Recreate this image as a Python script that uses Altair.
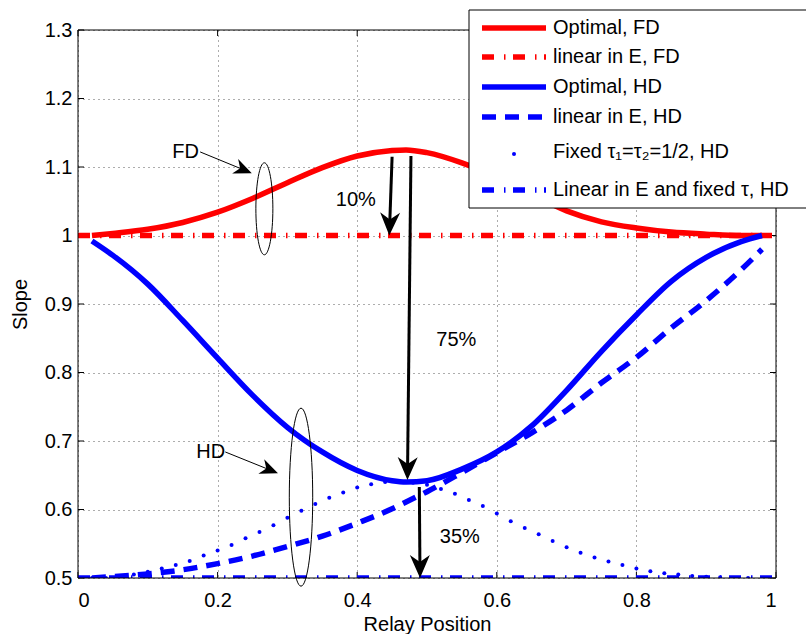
import math
import altair as alt
import pandas as pd

FONT = "Liberation Sans"
RED = "#ff0000"
BLUE = "#0000ff"
W, H = 698, 548
X_DOMAIN = [0.0, 1.0]
Y_DOMAIN = [0.5, 1.3]

# ---------------- data ----------------
x_opt = [0.02, 0.05, 0.10, 0.15, 0.20, 0.25, 0.30, 0.35, 0.40, 0.45, 0.47,
         0.50, 0.55, 0.60, 0.65, 0.70, 0.75, 0.80, 0.85, 0.90, 0.95, 0.98]
fd_optimal = [1.000, 1.003, 1.009, 1.019, 1.034, 1.054, 1.077, 1.099, 1.116, 1.124, 1.125,
              1.121, 1.106, 1.085, 1.060, 1.036, 1.020, 1.011, 1.005, 1.002, 1.000, 1.000]
hd_optimal = [0.992, 0.971, 0.929, 0.876, 0.821, 0.767, 0.720, 0.684, 0.657, 0.642, 0.640,
              0.642, 0.659, 0.684, 0.722, 0.774, 0.831, 0.884, 0.933, 0.968, 0.991, 1.000]
hd_linear = [0.500, 0.502, 0.506, 0.512, 0.521, 0.532, 0.546, 0.561, 0.580, 0.601, 0.611,
             0.626, 0.654, 0.683, 0.712, 0.745, 0.785, 0.822, 0.865, 0.905, 0.950, 0.980]
x_fixed = [0.02, 0.04, 0.06, 0.08, 0.10, 0.12, 0.14, 0.16, 0.18, 0.20,
           0.22, 0.24, 0.26, 0.28, 0.30, 0.32, 0.34, 0.36, 0.38, 0.40,
           0.42, 0.44, 0.46, 0.48, 0.50, 0.52, 0.54, 0.56, 0.58, 0.60,
           0.62, 0.64, 0.66, 0.68, 0.70, 0.72, 0.74, 0.76, 0.78, 0.80,
           0.82, 0.84, 0.86, 0.88, 0.90, 0.92, 0.94, 0.96, 0.98]
hd_fixed_tau = [0.500, 0.500, 0.502, 0.505, 0.509, 0.514, 0.519, 0.525, 0.533, 0.540,
                0.548, 0.558, 0.567, 0.577, 0.588, 0.598, 0.608, 0.617, 0.625, 0.632,
                0.637, 0.640, 0.641, 0.639, 0.636, 0.630, 0.623, 0.614, 0.605, 0.594,
                0.583, 0.573, 0.564, 0.554, 0.545, 0.537, 0.530, 0.524, 0.519, 0.514,
                0.510, 0.507, 0.505, 0.503, 0.502, 0.501, 0.500, 0.500, 0.500]
x_flat = [0.0, 1.0]
fd_linear = [1.0, 1.0]
hd_linear_fixed_tau = [0.5, 0.5]

x_ticks = [0.0, 0.2, 0.4, 0.6, 0.8, 1.0]
y_ticks = [0.5, 0.6, 0.7, 0.8, 0.9, 1.0, 1.1, 1.2, 1.3]

legend_labels = ["Optimal, FD", "linear in E, FD", "Optimal, HD", "linear in E, HD",
                 "Fixed \u03c4\u2081=\u03c4\u2082=1/2, HD", "Linear in E and fixed \u03c4, HD"]

gap_labels = ["10%", "75%", "35%"]
gap_label_x = [0.398, 0.542, 0.547]
gap_label_y = [1.052, 0.847, 0.560]
gap_arrow_x0 = [0.450, 0.477, 0.489]
gap_arrow_y0 = [1.115, 1.116, 0.633]
gap_arrow_x1 = [0.446, 0.472, 0.490]
gap_arrow_y1 = [1.000, 0.643, 0.500]

group_labels = ["FD", "HD"]
group_label_x = [0.154, 0.190]
group_label_y = [1.122, 0.684]
group_arrow_x0 = [0.175, 0.211]
group_arrow_y0 = [1.122, 0.684]
group_arrow_x1 = [0.249, 0.2865]
group_arrow_y1 = [1.091, 0.653]
group_ellipse_x = [0.267, 0.3195]
group_ellipse_y = [1.039, 0.618]

# ---------------- style / layout ----------------
ELLIPSE_RX = [8.5, 11.7]   # px
ELLIPSE_RY = [46.0, 89.0]  # px
FS = 20
LW = 5.5
DASH = [14, 9]
DASHDOT = [12, 10, 1.5, 7.5]
ARROW_PATH = "M0,0L0.87,2L0,1.4L-0.87,2Z"
DOT_SIZE = 16

xscale = alt.Scale(domain=X_DOMAIN, nice=False, zero=False)
yscale = alt.Scale(domain=Y_DOMAIN, nice=False, zero=False)
xaxis = alt.Axis(values=x_ticks, format="~g", grid=True, ticks=False, domain=False,
                 labelPadding=12, titlePadding=4, title="Relay Position")
yaxis = alt.Axis(values=y_ticks, format="~g", grid=True, ticks=False, domain=False,
                 labelPadding=6, titlePadding=14, title="Slope")


def X(f):
    return alt.X(f"{f}:Q", scale=xscale, axis=xaxis)


def Y(f):
    return alt.Y(f"{f}:Q", scale=yscale, axis=yaxis)


def to_px(x, y):
    return (x - X_DOMAIN[0]) / (X_DOMAIN[1] - X_DOMAIN[0]) * W, \
           (Y_DOMAIN[1] - y) / (Y_DOMAIN[1] - Y_DOMAIN[0]) * H


def to_data(px, py):
    return X_DOMAIN[0] + px / W * (X_DOMAIN[1] - X_DOMAIN[0]), \
           Y_DOMAIN[1] - py / H * (Y_DOMAIN[1] - Y_DOMAIN[0])


def arrow_frames(x0s, y0s, x1s, y1s, shorten):
    rows_s, rows_h = [], []
    for x0, y0, x1, y1 in zip(x0s, y0s, x1s, y1s):
        p0 = to_px(x0, y0)
        p1 = to_px(x1, y1)
        dx, dy = p1[0] - p0[0], p1[1] - p0[1]
        L = math.hypot(dx, dy)
        ex, ey = to_data(p1[0] - dx / L * shorten, p1[1] - dy / L * shorten)
        rows_s.append({"x0": x0, "y0": y0, "x1": ex, "y1": ey})
        ang = math.degrees(math.atan2(dx, -dy)) % 360
        rows_h.append({"x1": x1, "y1": y1, "ang": ang})
    return pd.DataFrame(rows_s), pd.DataFrame(rows_h)


def line_layer(xs, ys, color, dash=None, smooth=True):
    kw = dict(color=color, strokeWidth=LW, clip=True, strokeCap="butt", strokeJoin="round")
    if smooth:
        kw["interpolate"] = "monotone"
    if dash:
        kw["strokeDash"] = dash
    return alt.Chart(pd.DataFrame({"x": xs, "y": ys})).mark_line(**kw).encode(x=X("x"), y=Y("y"))


layers = []

# tick marks (inward, all four sides)
tx = pd.DataFrame({"x": x_ticks})
ty = pd.DataFrame({"y": y_ticks})
layers.append(alt.Chart(tx).mark_rule(color="black", strokeWidth=1).encode(
    x=X("x"), y=alt.value(H), y2=alt.value(H - 6)))
layers.append(alt.Chart(tx).mark_rule(color="black", strokeWidth=1).encode(
    x=X("x"), y=alt.value(0), y2=alt.value(6)))
layers.append(alt.Chart(ty).mark_rule(color="black", strokeWidth=1).encode(
    y=Y("y"), x=alt.value(0), x2=alt.value(6)))
layers.append(alt.Chart(ty).mark_rule(color="black", strokeWidth=1).encode(
    y=Y("y"), x=alt.value(W - 6), x2=alt.value(W)))

# data series
layers.append(line_layer(x_opt, fd_optimal, RED))
layers.append(line_layer(x_flat, fd_linear, RED, DASHDOT, smooth=False))
layers.append(line_layer(x_opt, hd_optimal, BLUE))
layers.append(line_layer(x_opt, hd_linear, BLUE, DASH))
layers.append(alt.Chart(pd.DataFrame({"x": x_fixed, "y": hd_fixed_tau})).mark_circle(
    color=BLUE, size=DOT_SIZE, opacity=1, clip=True).encode(x=X("x"), y=Y("y")))
layers.append(line_layer(x_flat, hd_linear_fixed_tau, BLUE, DASHDOT, smooth=False))

# gap arrows
gs, gh = arrow_frames(gap_arrow_x0, gap_arrow_y0, gap_arrow_x1, gap_arrow_y1, 12)
layers.append(alt.Chart(gs).mark_rule(color="black", strokeWidth=3).encode(
    x=X("x0"), y=Y("y0"), x2="x1:Q", y2="y1:Q"))
layers.append(alt.Chart(gh).mark_point(shape=ARROW_PATH, filled=True, color="black",
                                       size=529, opacity=1, strokeWidth=0).encode(
    x=X("x1"), y=Y("y1"), angle=alt.Angle("ang:Q", scale=None)))
layers.append(alt.Chart(pd.DataFrame({"t": gap_labels, "x": gap_label_x, "y": gap_label_y})).mark_text(
    font=FONT, fontSize=FS, color="black", align="center", baseline="middle").encode(
    x=X("x"), y=Y("y"), text="t:N"))

# group arrows, ellipses and labels
ps, ph = arrow_frames(group_arrow_x0, group_arrow_y0, group_arrow_x1, group_arrow_y1, 8)
layers.append(alt.Chart(ps).mark_rule(color="black", strokeWidth=1).encode(
    x=X("x0"), y=Y("y0"), x2="x1:Q", y2="y1:Q"))
layers.append(alt.Chart(ph).mark_point(shape=ARROW_PATH, filled=True, color="black",
                                       size=324, opacity=1, strokeWidth=0).encode(
    x=X("x1"), y=Y("y1"), angle=alt.Angle("ang:Q", scale=None)))
layers.append(alt.Chart(pd.DataFrame({"t": group_labels, "x": group_label_x, "y": group_label_y})).mark_text(
    font=FONT, fontSize=FS, color="black", align="center", baseline="middle").encode(
    x=X("x"), y=Y("y"), text="t:N"))

k = 0.5523
for ex, ey, rx, ry in zip(group_ellipse_x, group_ellipse_y, ELLIPSE_RX, ELLIPSE_RY):
    a = rx / ry
    ka = k * a
    path = (f"M0,-1C{ka:.4f},-1 {a:.4f},-{k} {a:.4f},0C{a:.4f},{k} {ka:.4f},1 0,1"
            f"C-{ka:.4f},1 -{a:.4f},{k} -{a:.4f},0C-{a:.4f},-{k} -{ka:.4f},-1 0,-1Z")
    layers.append(alt.Chart(pd.DataFrame({"x": [ex], "y": [ey]})).mark_point(
        shape=path, filled=False, stroke="black", strokeWidth=1, opacity=1,
        size=(2 * ry) ** 2).encode(x=X("x"), y=Y("y")))

# frame
one = pd.DataFrame({"k": [0]})
layers.append(alt.Chart(one).mark_rect(fillOpacity=0, stroke="black", strokeWidth=1).encode(
    x=alt.value(0), x2=alt.value(W), y=alt.value(0), y2=alt.value(H)))

# legend (drawn manually, overlapping the top-right corner)
LEG_X0, LEG_X1, LEG_Y0, LEG_Y1 = 391, 770, -20, 178
LINE_X0, LINE_X1, TEXT_X = 404, 468, 475
ROW_Y = [-2, 27, 57, 87, 122, 160]
layers.append(alt.Chart(one).mark_rect(fill="white", stroke="black", strokeWidth=1).encode(
    x=alt.value(LEG_X0), x2=alt.value(LEG_X1), y=alt.value(LEG_Y0), y2=alt.value(LEG_Y1)))
styles = [(RED, None), (RED, DASHDOT), (BLUE, None), (BLUE, DASH), None, (BLUE, DASHDOT)]
for i, st in enumerate(styles):
    if st is None:
        layers.append(alt.Chart(one).mark_circle(color=BLUE, size=DOT_SIZE, opacity=1).encode(
            x=alt.value((LINE_X0 + LINE_X1) / 2), y=alt.value(ROW_Y[i] + 2)))
        continue
    c, d = st
    kw = dict(color=c, strokeWidth=LW, strokeCap="butt")
    if d:
        kw["strokeDash"] = d
    layers.append(alt.Chart(one).mark_rule(**kw).encode(
        x=alt.value(LINE_X0), x2=alt.value(LINE_X1), y=alt.value(ROW_Y[i])))
for i, lab in enumerate(legend_labels):
    layers.append(alt.Chart(pd.DataFrame({"t": [lab]})).mark_text(
        font=FONT, fontSize=FS, color="black", align="left", baseline="middle").encode(
        x=alt.value(TEXT_X), y=alt.value(ROW_Y[i]), text="t:N"))

chart = alt.layer(*layers).properties(
    width=W, height=H,
    autosize=alt.AutoSizeParams(type="none"),
    padding={"left": 78, "top": 30, "right": 30, "bottom": 56},
).configure(font=FONT).configure_view(stroke=None).configure_axis(
    labelFont=FONT, labelFontSize=FS, labelColor="black",
    titleFont=FONT, titleFontSize=FS, titleFontWeight="normal", titleColor="black",
    gridColor="#333333", gridDash=[1, 4], gridWidth=1, gridOpacity=0.8,
)

chart.save("out.html", embed_options={"renderer": "svg", "actions": False})
